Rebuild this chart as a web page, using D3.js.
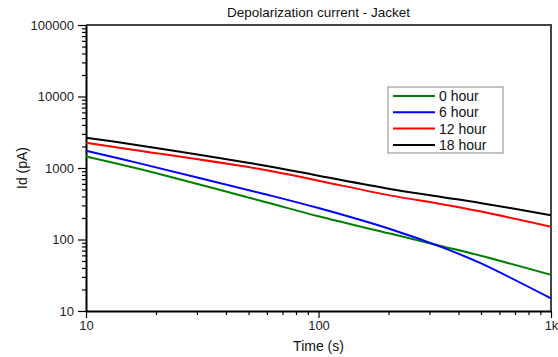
<!DOCTYPE html>
<html>
<head>
<meta charset="utf-8">
<script src="https://cdn.jsdelivr.net/npm/d3@7"></script>
<style>
  body { margin: 0; background: #fff; }
  svg { font-family: 'Liberation Sans', Arial, sans-serif; }
</style>
</head>
<body>
<div id="chart-area"></div>
<script>
// data (time in s, current in pA)
var times   = [10, 17, 59, 100, 203, 343, 495, 1000]
var hour0   = [1452, 968, 335, 211, 121, 80, 59.6, 32]
var hour6   = [1745, 1160, 430, 275, 140, 77, 47, 15]
var hour12  = [2250, 1745, 938, 665, 414, 310, 248, 151]
var hour18  = [2650, 2070, 1077, 780, 509, 390, 325, 218]
var seriesNames = ['0 hour', '6 hour', '12 hour', '18 hour']
var yTicks = [10, 100, 1000, 10000, 100000]
var xTicks = [10, 100, 1000]
var xTickLabels = ['10', '100', '1k']

var colors = ['#008000', '#0000ff', '#ff0000', '#000000']
var series = [hour0, hour6, hour12, hour18]

var margin = { left: 86, right: 7, top: 25, bottom: 46 }
var W = 558, H = 357
var width = W - margin.left - margin.right,
    height = H - margin.top - margin.bottom

var svg = d3.select('#chart-area')
  .append('svg')
    .attr('width', W)
    .attr('height', H)

var g = svg.append('g')
    .attr('transform', 'translate(' + margin.left + ',' + margin.top + ')')

var x = d3.scaleLog().domain([10, 1000]).range([0, width])
var y = d3.scaleLog().domain([10, 100000]).range([height, 0])

// minor tick values
function minors(lo, hi) {
  var out = []
  for (var d = lo; d < hi; d *= 10)
    for (var k = 2; k <= 9; k++) out.push(d * k)
  return out
}

// frame: top and right
g.append('path')
  .attr('d', 'M0,0H' + width + 'V' + height)
  .attr('fill', 'none')
  .attr('stroke', '#444')
  .attr('stroke-width', 2)

// minor ticks
g.append('g')
  .call(d3.axisLeft(y).tickValues(minors(10, 100000)).tickSize(4).tickFormat(''))
  .call(a => a.select('.domain').remove())
g.append('g')
  .attr('transform', 'translate(0,' + height + ')')
  .call(d3.axisBottom(x).tickValues(minors(10, 1000)).tickSize(4).tickFormat(''))
  .call(a => a.select('.domain').remove())

// major axes
var yAxis = g.append('g')
  .attr('class', 'y axis')
  .call(d3.axisLeft(y).tickValues(yTicks).tickSize(8).tickSizeOuter(0).tickFormat(d3.format('d')))
var xAxis = g.append('g')
  .attr('class', 'x axis')
  .attr('transform', 'translate(0,' + height + ')')
  .call(d3.axisBottom(x).tickValues(xTicks).tickSize(7).tickSizeOuter(0)
    .tickFormat((d, i) => xTickLabels[i]))

g.selectAll('.axis .domain').attr('stroke-width', 2)
g.selectAll('.tick line').attr('stroke-width', 1.2)
g.selectAll('.axis text').attr('font-size', '13px').attr('fill', '#222')
  .attr('font-family', "'Liberation Sans', Arial, sans-serif")
yAxis.selectAll('text').attr('x', -12)
xAxis.selectAll('text').attr('y', 10)

// lines
var line = d3.line()
  .x(d => x(d[0]))
  .y(d => y(d[1]))
  .curve(d3.curveCatmullRom.alpha(0.5))

series.forEach((s, i) => {
  g.append('path')
    .datum(times.map((t, j) => [t, s[j]]))
    .attr('fill', 'none')
    .attr('stroke', colors[i])
    .attr('stroke-width', 2)
    .attr('d', line)
})

// legend
var lg = svg.append('g').attr('transform', 'translate(388,87)')
lg.append('rect')
  .attr('width', 115).attr('height', 66)
  .attr('fill', '#fff').attr('stroke', '#888').attr('stroke-width', 1)
seriesNames.forEach((n, i) => {
  var yy = 9 + i * 16.3
  lg.append('line')
    .attr('x1', 5).attr('x2', 47).attr('y1', yy).attr('y2', yy)
    .attr('stroke', colors[i]).attr('stroke-width', 2)
  lg.append('text')
    .attr('x', 51).attr('y', yy + 5)
    .attr('font-size', '14px')
    .attr('fill', '#111')
    .text(n)
})

// title and axis labels
svg.append('text')
  .attr('x', margin.left + width / 2)
  .attr('y', 17)
  .attr('text-anchor', 'middle')
  .attr('font-size', '13.5px')
  .attr('fill', '#111')
  .text('Depolarization current - Jacket')

svg.append('text')
  .attr('x', margin.left + width / 2)
  .attr('y', 351)
  .attr('text-anchor', 'middle')
  .attr('font-size', '14px')
  .attr('fill', '#111')
  .text('Time (s)')

svg.append('text')
  .attr('transform', 'translate(27,' + (margin.top + height / 2) + ') rotate(-90)')
  .attr('text-anchor', 'middle')
  .attr('font-size', '14px')
  .attr('fill', '#111')
  .text('Id (pA)')
</script>
</body>
</html>
